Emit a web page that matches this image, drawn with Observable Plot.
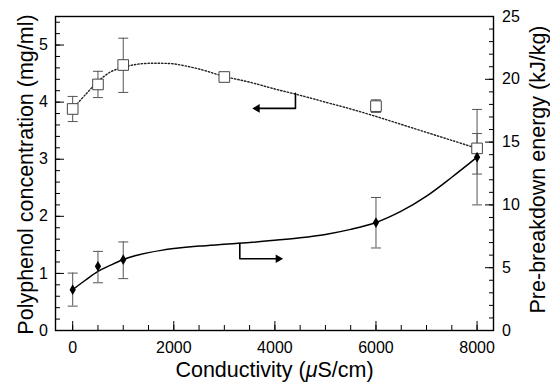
<!DOCTYPE html>
<html><head><meta charset="utf-8">
<script src="https://cdn.jsdelivr.net/npm/d3@7"></script>
<script src="https://cdn.jsdelivr.net/npm/@observablehq/plot@0.6"></script>
<style>body{margin:0;background:#fff;}</style>
</head><body><div id="chart"></div>
<script>
// Measured points: polyphenol concentration (mg/ml), left axis
const polyX = [0, 500, 1000, 3000, 6000, 8000];
const polyY = [3.88, 4.31, 4.65, 4.44, 3.93, 3.19];
const polyLo = [3.66, 4.08, 4.17, null, 3.82, 2.74];
const polyHi = [4.10, 4.54, 5.12, null, 4.04, 3.45];
// Measured points: pre-breakdown energy (kJ/kg), right axis
const energyX = [0, 500, 1000, 6000, 8000];
const energyY = [3.25, 5.11, 5.64, 8.59, 13.8];
const energyLo = [1.94, 3.8, 4.13, 6.57, 10.0];
const energyHi = [4.57, 6.3, 7.05, 10.59, 17.6];
// Fitted curves
const fitX = [0, 250, 500, 750, 1000, 1250, 1500, 1750, 2000, 2500, 3000, 3500, 4000, 4500, 5000, 5500, 6000, 6500, 7000, 7500, 8000];
const polyFit = [3.88, 4.13, 4.36, 4.53, 4.61, 4.66, 4.68, 4.68, 4.67, 4.58, 4.45, 4.35, 4.23, 4.12, 4.0, 3.88, 3.75, 3.61, 3.47, 3.33, 3.19];
const energyFit = [3.25, 4.0, 4.7, 5.2, 5.65, 5.97, 6.2, 6.38, 6.52, 6.72, 6.86, 7.0, 7.18, 7.38, 7.65, 8.05, 8.6, 9.5, 10.7, 12.2, 13.8];
// Axis arrows (which curve belongs to which axis)
const polyArrowX = [4407, 4407, 3600];
const polyArrowY = [4.156, 3.89, 3.89];
const polyHeadX = [3650];
const energyArrowX = [3306, 3306, 4120];
const energyArrowY = [6.92, 5.71, 5.71];
const energyHeadX = [4065];
// Ticks
const xTicks = [0, 2000, 4000, 6000, 8000];
const xMinor = d3.range(0, 8001, 500);
const leftTicks = [0, 1, 2, 3, 4, 5];
const leftMinor = d3.range(0, 5.41, 0.2);
const rightTicks = [0, 5, 10, 15, 20, 25];
const rightMinor = d3.range(0, 25.1, 1);

const K = 5.5 / 25; // right-axis units -> left-axis units

const polyPts = polyX.map((x, i) => ({x, y: polyY[i], lo: polyLo[i], hi: polyHi[i]}));
const enPts = energyX.map((x, i) => ({x, y: energyY[i] * K, lo: energyLo[i] * K, hi: energyHi[i] * K}));
const polyErr = polyPts.filter(d => d.lo != null);
const polyCurve = fitX.map((x, i) => ({x, y: polyFit[i]}));
const enCurve = fitX.map((x, i) => ({x, y: energyFit[i] * K}));
const pArrow = polyArrowX.map((x, i) => ({x, y: polyArrowY[i]}));
const eArrow = energyArrowX.map((x, i) => ({x, y: energyArrowY[i] * K}));

const cap = {draw(ctx) { ctx.moveTo(-5, 0); ctx.lineTo(5, 0); }};
const errColor = "#555";
const fmt = d3.format("d");

const chart = Plot.plot({
  width: 550, height: 382,
  marginLeft: 55, marginRight: 57, marginTop: 16, marginBottom: 52,
  style: {fontFamily: "'Liberation Sans', Arial, sans-serif", fontSize: "16px", color: "#000", background: "#fff"},
  x: {domain: [-340, 8325]},
  y: {domain: [0, 5.5]},
  marks: [
    Plot.frame({stroke: "#000", strokeWidth: 1.4}),
    Plot.axisX({ticks: xMinor, tickSize: -5, tickFormat: () => "", label: null}),
    Plot.axisX({ticks: xTicks, tickSize: -9, tickPadding: 20.5, tickFormat: fmt, label: null, fontSize: 16}),
    Plot.axisY({ticks: leftMinor, tickSize: -5, tickFormat: () => "", label: null}),
    Plot.axisY({ticks: leftTicks, tickSize: -9, tickPadding: 16.5, tickFormat: fmt, label: null, fontSize: 16}),
    Plot.axisY({anchor: "right", ticks: rightMinor.map(v => v * K), tickSize: -5, tickFormat: () => "", label: null}),
    Plot.axisY({anchor: "right", ticks: rightTicks.map(v => v * K), tickSize: -9, tickPadding: 17.5, tickFormat: d => fmt(Math.round(d / K)), label: null, fontSize: 16}),
    Plot.line(polyCurve, {x: "x", y: "y", curve: "catmull-rom", stroke: "#222", strokeWidth: 1.4, strokeDasharray: "1.4,2"}),
    Plot.line(enCurve, {x: "x", y: "y", curve: "catmull-rom", stroke: "#000", strokeWidth: 1.5}),
    Plot.line(pArrow, {x: "x", y: "y", stroke: "#000", strokeWidth: 1.6}),
    Plot.dot(polyHeadX, {x: d => d, y: polyArrowY[1], symbol: "triangle", r: 3.2, rotate: -90, fill: "#000", stroke: "none"}),
    Plot.line(eArrow, {x: "x", y: "y", stroke: "#000", strokeWidth: 1.6}),
    Plot.dot(energyHeadX, {x: d => d, y: energyArrowY[1] * K, symbol: "triangle", r: 3.2, rotate: 90, fill: "#000", stroke: "none"}),
    Plot.ruleX(polyErr, {x: "x", y1: "lo", y2: "hi", stroke: errColor, strokeWidth: 1}),
    Plot.dot(polyErr, {x: "x", y: "lo", symbol: cap, fill: "none", stroke: errColor, strokeWidth: 1}),
    Plot.dot(polyErr, {x: "x", y: "hi", symbol: cap, fill: "none", stroke: errColor, strokeWidth: 1}),
    Plot.ruleX(enPts, {x: "x", y1: "lo", y2: "hi", stroke: errColor, strokeWidth: 1}),
    Plot.dot(enPts, {x: "x", y: "lo", symbol: cap, fill: "none", stroke: errColor, strokeWidth: 1}),
    Plot.dot(enPts, {x: "x", y: "hi", symbol: cap, fill: "none", stroke: errColor, strokeWidth: 1}),
    Plot.dot(polyPts, {x: "x", y: "y", symbol: "square", r: 6, fill: "#fff", stroke: "#444", strokeWidth: 1}),
    Plot.dot(enPts, {x: "x", y: "y", symbol: "diamond", r: 3.3, fill: "#000", stroke: "none"}),
    Plot.text(["Conductivity (μS/cm)"], {frameAnchor: "bottom", textAnchor: "middle", lineAnchor: "middle", dy: 40, fontSize: 21.5}),
    Plot.text(["Polyphenol concentration (mg/ml)"], {frameAnchor: "left", textAnchor: "middle", lineAnchor: "middle", rotate: -90, dx: -29.5, dy: 1, fontSize: 21.5}),
    Plot.text(["Pre-breakdown energy (kJ/kg)"], {frameAnchor: "right", textAnchor: "middle", lineAnchor: "middle", rotate: -90, dx: 45, dy: -4, fontSize: 21.5})
  ]
});
chart.querySelectorAll("text").forEach(t => {
  if (t.textContent === "Conductivity (μS/cm)") {
    t.innerHTML = 'Conductivity (<tspan font-style="italic">μ</tspan>S/cm)';
  }
});
document.getElementById("chart").appendChild(chart);
</script>
</body></html>
